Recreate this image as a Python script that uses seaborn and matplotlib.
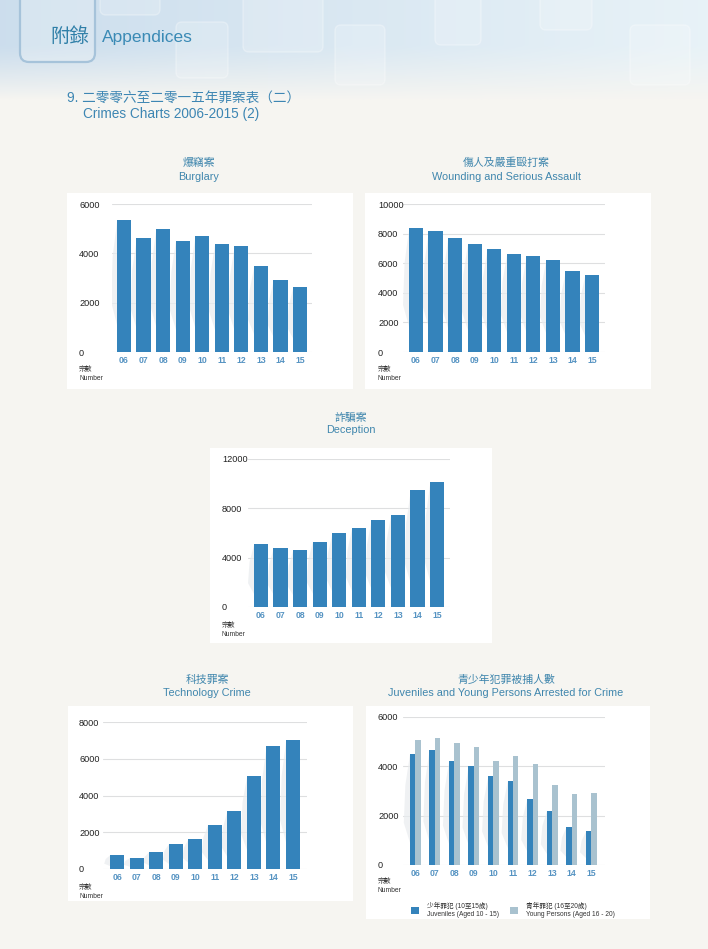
import numpy as np
import pandas as pd
import matplotlib
matplotlib.use('Agg')
import matplotlib.pyplot as plt
import seaborn as sns
from matplotlib.patches import Rectangle, FancyBboxPatch, Polygon, Patch

# ---------------- data ----------------
years = ['06', '07', '08', '09', '10', '11', '12', '13', '14', '15']
burglary = [5350, 4610, 5000, 4510, 4720, 4390, 4300, 3470, 2920, 2620]
wounding = [8370, 8190, 7700, 7290, 6950, 6590, 6460, 6210, 5440, 5210]
deception = [5090, 4800, 4630, 5310, 5990, 6370, 7050, 7480, 9460, 10140]
technology = [760, 600, 930, 1360, 1620, 2400, 3160, 5050, 6720, 7020]
juveniles = [4500, 4660, 4200, 4000, 3590, 3410, 2680, 2200, 1540, 1360]
young_persons = [5050, 5160, 4960, 4770, 4200, 4420, 4090, 3240, 2860, 2910]

burglary_ticks = [0, 2000, 4000, 6000]
wounding_ticks = [0, 2000, 4000, 6000, 8000, 10000]
deception_ticks = [0, 4000, 8000, 12000]
technology_ticks = [0, 2000, 4000, 6000, 8000]
juvenile_ticks = [0, 2000, 4000, 6000]

juv_label = '少年罪犯 (10至15歲)\nJuveniles (Aged 10 - 15)'
young_label = '青年罪犯 (16至20歲)\nYoung Persons (Aged 16 - 20)'

# ---------------- style ----------------
sns.set_theme(style='white')
plt.rcParams['font.family'] = ['Liberation Sans', 'Noto Sans CJK TC']

BLUE = '#3483bb'
LIGHT = '#a9c2cf'
TITLE_C = '#3f86ad'
PAGE = '#f6f5f1'

W, H = 708, 949
fig = plt.figure(figsize=(W / 100, H / 100), dpi=100)
fig.patch.set_facecolor(PAGE)

bg = fig.add_axes([0, 0, 1, 1], zorder=0)
bg.set_xlim(0, W)
bg.set_ylim(H, 0)
bg.axis('off')

# header gradient
hh = 100
xs = np.linspace(0, 1, 300)
ys = np.linspace(0, 1, hh)
left_c = np.array([0.80, 0.87, 0.93])
right_c = np.array([0.91, 0.95, 0.97])
page_c = np.array(matplotlib.colors.to_rgb(PAGE))
img = np.zeros((hh, 300, 3))
for i, yv in enumerate(ys):
    row = left_c[None, :] * (1 - xs[:, None]) + right_c[None, :] * xs[:, None]
    t = np.clip((yv - 0.45) / 0.55, 0, 1) ** 1.2
    img[i] = row * (1 - t) + page_c[None, :] * t
bg.imshow(img, extent=(0, W, hh, 0), aspect='auto', zorder=0, interpolation='bilinear')

for (x0, y0, w, h) in [(176, 22, 52, 56), (243, -10, 80, 62), (335, 25, 50, 60),
                       (435, -10, 46, 55), (540, -10, 52, 40), (630, 25, 60, 60),
                       (100, -10, 60, 25)]:
    bg.add_patch(FancyBboxPatch((x0, y0), w, h, boxstyle='round,pad=0,rounding_size=6',
                                fc=(1, 1, 1, 0.18), ec=(1, 1, 1, 0.3), lw=1, zorder=1))
bg.add_patch(FancyBboxPatch((20, -20), 75, 82, boxstyle='round,pad=0,rounding_size=9',
                            fc=(1, 1, 1, 0.22), ec='#a6c3da', lw=1.6, zorder=2))
bg.text(50, 37, '附錄', fontsize=14, color='#2f7fa8', va='center', ha='left', zorder=3)
bg.text(102, 37, 'Appendices', fontsize=12.5, color='#3a8ab5', va='center', ha='left', zorder=3)

bg.text(67, 98, '9. 二零零六至二零一五年罪案表（二）', fontsize=9.8, color='#3d86b3',
        va='center', ha='left')
bg.text(83, 114, 'Crimes Charts 2006-2015 (2)', fontsize=9.8, color='#3d86b3',
        va='center', ha='left')


def px_rect(x0, y0, x1, y1):
    return [x0 / W, 1 - y1 / H, (x1 - x0) / W, (y1 - y0) / H]


def style_axis(ax, ticks, xlim, ypad_px):
    ax.set_facecolor('none')
    for s in ax.spines.values():
        s.set_visible(False)
    ax.set_ylim(0, ticks[-1])
    ax.set_yticks(ticks)
    ax.set_yticklabels([str(t) for t in ticks])
    ax.set_xlim(*xlim)
    ax.yaxis.grid(True, color='#dedfe0', lw=0.8, zorder=0)
    ax.xaxis.grid(False)
    ax.set_axisbelow(True)
    ax.set_xlabel('')
    ax.set_ylabel('')
    ax.tick_params(axis='both', length=0)
    ax.tick_params(axis='y', labelsize=6.6, labelcolor='#222222', pad=ypad_px * 0.72)
    ax.tick_params(axis='x', labelsize=6.2, labelcolor='#5593c2', pad=3.0)
    for lab in ax.get_yticklabels():
        lab.set_ha('left')
    for lab in ax.get_xticklabels():
        lab.set_fontweight('bold')


def add_shadows(ax, patches):
    for p in patches:
        p.set_zorder(3)
        x0 = p.get_x()
        h = p.get_height()
        poly = Polygon([(x0 + 0.02, h), (x0 - 0.22, h * 0.72), (x0 - 0.3, h * 0.38),
                        (x0 + 0.02, h * 0.2)],
                       closed=True, fc='#e9ecef', ec='none', alpha=0.7, zorder=2)
        ax.add_patch(poly)


def panel(box, axbox, cn, en, tcx, tcy, num_x, num_y, values, ticks, xlim, label_x):
    bx0, by0, bx1, by1 = box
    bg.add_patch(Rectangle((bx0, by0), bx1 - bx0, by1 - by0, fc='white', ec='none', zorder=1))
    bg.text(tcx, tcy[0], cn, fontsize=7.8, color=TITLE_C, ha='center', va='center')
    bg.text(tcx, tcy[1], en, fontsize=7.8, color=TITLE_C, ha='center', va='center')
    bg.text(num_x, num_y[0], '宗數', fontsize=4.9, color='#333333', ha='left', va='center')
    bg.text(num_x, num_y[1], 'Number', fontsize=4.9, color='#333333', ha='left', va='center')
    ax = fig.add_axes(px_rect(*axbox), zorder=2)
    if values is not None:
        sns.barplot(x=years, y=values, color=BLUE, width=0.72, saturation=1,
                    linewidth=0, errorbar=None, ax=ax)
        add_shadows(ax, list(ax.patches))
    style_axis(ax, ticks, xlim, axbox[0] - label_x)
    return ax


panel((67, 193, 353, 389), (112, 204, 312, 352), '爆竊案', 'Burglary', 199, (163, 177),
      79, (369, 379), burglary, burglary_ticks, (-0.61, 9.61), 79)
panel((365, 193, 651, 389), (403, 204, 605, 352), '傷人及嚴重毆打案', 'Wounding and Serious Assault',
      506, (163, 177), 378, (369, 379), wounding, wounding_ticks, (-0.66, 9.66), 378)
panel((210, 448, 492, 643), (248, 459, 450, 607), '詐騙案', 'Deception', 351, (418, 430),
      222, (625, 634), deception, deception_ticks, (-0.66, 9.66), 222)
panel((68, 706, 353, 901), (103, 722, 307, 869), '科技罪案', 'Technology Crime', 207, (680, 693),
      79, (888, 897), technology, technology_ticks, (-0.72, 9.72), 79)

# grouped chart
axj = panel((366, 706, 650, 919), (403, 717, 605, 865), '青少年犯罪被捕人數',
            'Juveniles and Young Persons Arrested for Crime', 506, (680, 693),
            378, (882, 891), None, juvenile_ticks, (-0.62, 9.7), 378)
df = pd.DataFrame({
    'year': years * 2,
    'value': juveniles + young_persons,
    'group': [juv_label] * len(years) + [young_label] * len(years),
})
sns.barplot(data=df, x='year', y='value', hue='group', palette=[BLUE, LIGHT],
            width=0.56, gap=0, saturation=1, linewidth=0, errorbar=None,
            legend=False, ax=axj)
for p in list(axj.patches):
    p.set_zorder(3)
add_shadows(axj, list(axj.containers[0]))
style_axis(axj, juvenile_ticks, (-0.62, 9.7), 403 - 378)

handles = [Patch(fc=BLUE, ec='none'), Patch(fc=LIGHT, ec='none')]
fig.legend(handles, [juv_label, young_label], loc='center left',
           bbox_to_anchor=(411 / W, 1 - 910 / H), ncol=2, frameon=False,
           fontsize=4.8, handlelength=1.25, handleheight=1.25, handletextpad=1.2,
           columnspacing=1.6, borderpad=0, borderaxespad=0, labelcolor='#333333')

fig.savefig('out.png', dpi=100, facecolor=fig.get_facecolor())
